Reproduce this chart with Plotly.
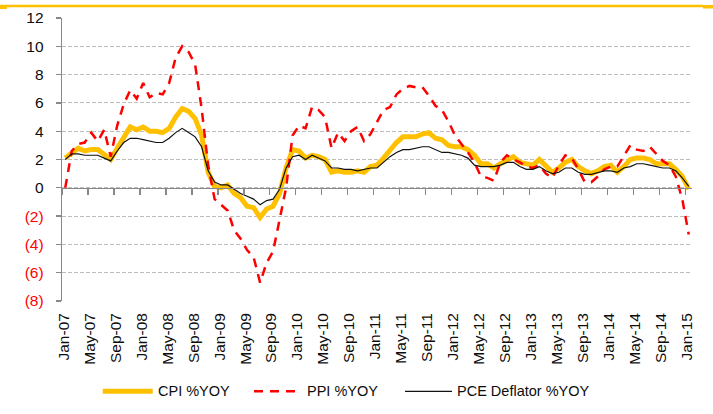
import plotly.graph_objects as go

# Monthly data Jan-07 .. Jan-15 (97 points)
months = []
for yr in range(7, 16):
    for mn in ["Jan", "Feb", "Mar", "Apr", "May", "Jun", "Jul", "Aug", "Sep", "Oct", "Nov", "Dec"]:
        months.append(f"{mn}-{yr:02d}")
months = months[:97]

cpi = [2.1, 2.4, 2.8, 2.6, 2.7, 2.7, 2.4, 2.0, 2.8, 3.5, 4.3, 4.1,
       4.3, 4.0, 4.0, 3.9, 4.2, 5.0, 5.6, 5.4, 4.9, 3.7, 1.1, 0.1,
       0.0, 0.2, -0.4, -0.7, -1.3, -1.4, -2.1, -1.5, -1.3, -0.4, 1.4, 2.7,
       2.6, 2.1, 2.3, 2.2, 2.0, 1.1, 1.2, 1.1, 1.1, 1.2, 1.1, 1.5,
       1.6, 2.1, 2.7, 3.2, 3.6, 3.6, 3.6, 3.8, 3.9, 3.5, 3.4, 3.0,
       2.9, 2.9, 2.7, 2.3, 1.7, 1.7, 1.4, 1.7, 2.0, 2.2, 1.8, 1.7,
       1.6, 2.0, 1.5, 1.1, 1.4, 1.8, 2.0, 1.5, 1.2, 1.0, 1.2, 1.5,
       1.6, 1.1, 1.5, 2.0, 2.1, 2.1, 2.0, 1.7, 1.7, 1.7, 1.3, 0.8,
       -0.1]

ppi = [0.0, 2.6, 3.1, 3.2, 3.9, 3.3, 4.1, 2.2, 4.4, 5.9, 6.9, 6.3,
       7.4, 6.4, 6.7, 6.6, 7.4, 9.2, 10.0, 9.6, 8.7, 5.6, 1.6, -0.8,
       -1.2, -1.6, -3.0, -3.6, -4.4, -4.9, -6.7, -5.3, -4.5, -2.2, 0.0, 3.7,
       4.4, 4.2, 5.7, 5.5, 5.0, 2.8, 3.9, 3.3, 4.0, 4.3, 3.3, 3.8,
       4.6, 5.5, 5.7, 6.6, 7.0, 7.2, 7.1, 7.1, 6.5, 5.8, 5.5, 4.7,
       3.7, 3.1, 2.5, 1.8, 0.8, 0.7, 0.5, 1.8, 2.3, 2.0, 1.8, 1.5,
       1.4, 1.6, 1.0, 0.7, 1.6, 2.3, 2.1, 1.3, 0.4, 0.4, 0.8, 1.3,
       1.5, 1.5, 2.3, 3.0, 2.7, 2.6, 2.9, 2.4, 1.9, 1.6, 0.8, -0.8,
       -3.3]

pce = [2.0, 2.4, 2.4, 2.3, 2.3, 2.3, 2.1, 1.9, 2.6, 3.2, 3.5, 3.5,
       3.4, 3.3, 3.2, 3.2, 3.5, 3.9, 4.2, 3.9, 3.6, 2.9, 1.2, 0.4,
       0.2, 0.2, -0.1, -0.4, -0.6, -0.8, -1.2, -0.9, -0.8, -0.1, 1.4, 2.2,
       2.3, 2.0, 2.3, 2.1, 1.9, 1.4, 1.4, 1.3, 1.3, 1.2, 1.3, 1.4,
       1.4, 1.8, 2.2, 2.5, 2.7, 2.7, 2.8, 2.9, 2.9, 2.7, 2.5, 2.5,
       2.4, 2.3, 2.1, 1.6, 1.5, 1.5, 1.5, 1.6, 1.8, 1.8, 1.5, 1.3,
       1.3, 1.5, 1.2, 1.0, 1.1, 1.4, 1.4, 1.1, 0.95, 0.95, 1.1, 1.2,
       1.2, 1.1, 1.4, 1.5, 1.7, 1.7, 1.6, 1.5, 1.4, 1.4, 1.2, 0.7,
       0.1]

tick_labels = months[::4]
y_vals = [-8, -6, -4, -2, 0, 2, 4, 6, 8, 10, 12]
y_text = ["(8)", "(6)", "(4)", "(2)", "0", "2", "4", "6", "8", "10", "12"]

idx = list(range(len(months)))
FONT = "Liberation Sans, Arial, sans-serif"
GOLD = "#FFC000"
TXT = "#0d0d0d"

fig = go.Figure()
fig.add_trace(go.Scatter(x=idx, y=cpi, mode="lines", name="CPI %YOY",
                         line=dict(color=GOLD, width=5), hoverinfo="skip"))
fig.add_trace(go.Scatter(x=idx, y=ppi, mode="lines", name="PPI %YOY",
                         line=dict(color="#FF0000", width=2.5, dash="9px,7px"), hoverinfo="skip"))
fig.add_trace(go.Scatter(x=idx, y=pce, mode="lines", name="PCE Deflator %YOY",
                         line=dict(color="#111111", width=1.2), hoverinfo="skip"))
# helper trace so the zero-crossing tick axis renders
fig.add_trace(go.Scatter(x=idx, y=pce, xaxis="x2", mode="lines", opacity=0,
                         line=dict(width=0), hoverinfo="skip", showlegend=False))

tick_text_colored = [
    (f"<span style='color:#FF0000'>{t}</span>" if v < 0 else t) for v, t in zip(y_vals, y_text)
]

fig.update_layout(
    width=713, height=414,
    margin=dict(l=62, r=21, t=18, b=113, autoexpand=False),
    paper_bgcolor="white", plot_bgcolor="white",
    showlegend=False,
    font=dict(family=FONT, size=15, color=TXT),
    xaxis=dict(
        range=[-0.5, 96.5],
        tickmode="array",
        tickvals=[4 * k - 0.25 for k in range(len(tick_labels))],
        ticktext=tick_labels,
        tickangle=-90,
        ticks="", showline=False, showgrid=False, zeroline=False,
        automargin=False, ticklabelstandoff=8,
        tickfont=dict(family=FONT, size=15.5, color=TXT),
    ),
    xaxis2=dict(
        overlaying="x", anchor="free", position=0.4, side="bottom",
        range=[-0.5, 96.5],
        tickmode="array",
        tickvals=[4 * k - 0.5 for k in range(len(tick_labels))],
        showticklabels=False,
        ticks="outside", ticklen=6, tickcolor="#888888", tickwidth=1.3,
        showline=True, linecolor="#888888", linewidth=1.3,
        showgrid=False, zeroline=False, automargin=False,
    ),
    yaxis=dict(
        range=[-8, 12],
        tickmode="array", tickvals=y_vals, ticktext=tick_text_colored,
        showgrid=True, gridcolor="#BDBDBD", gridwidth=1, griddash="4px,2px",
        zeroline=False,
        showline=True, linecolor="#888888", linewidth=1.3,
        ticks="outside", ticklen=5, tickcolor="#888888", tickwidth=1.3,
        ticklabelstandoff=9, automargin=False,
        tickfont=dict(family=FONT, size=15.5, color=TXT),
    ),
)

# top decorative gold rule
L, PW = 62, 630
T, PH = 18, 283
def px_x(p):
    return (p - L) / PW
def px_y(p):
    return (T + PH - p) / PH

fig.add_shape(type="line", xref="paper", yref="paper",
              x0=px_x(0), x1=px_x(703), y0=px_y(6), y1=px_y(6),
              line=dict(color=GOLD, width=2.5))
fig.add_shape(type="rect", xref="paper", yref="paper",
              x0=px_x(703), x1=px_x(713), y0=px_y(8.5), y1=px_y(5),
              line=dict(width=0), fillcolor=GOLD)
fig.add_shape(type="rect", xref="paper", yref="paper",
              x0=px_x(0), x1=px_x(7), y0=px_y(9), y1=px_y(5),
              line=dict(width=0), fillcolor=GOLD)

# custom legend
leg_y = px_y(391.3)
legend_items = [
    ("CPI %YOY", dict(color=GOLD, width=5), 102.7, 152.7),
    ("PPI %YOY", dict(color="#FF0000", width=2.5, dash="9px,7px"), 254, 302),
    ("PCE Deflator %YOY", dict(color="#111111", width=1.2), 405, 452),
]
for name, ln, a, b in legend_items:
    fig.add_shape(type="line", xref="paper", yref="paper",
                  x0=px_x(a), x1=px_x(b), y0=leg_y, y1=leg_y, line=ln)
    fig.add_annotation(xref="paper", yref="paper", x=px_x(b + 3), y=leg_y,
                       text=name, showarrow=False, xanchor="left", yanchor="middle",
                       font=dict(family=FONT, size=14.5, color=TXT))

fig.write_html("out.html",
               config={"displayModeBar": False, "staticPlot": True},
               post_script="document.body.style.margin='0';document.body.style.overflow='hidden';")
